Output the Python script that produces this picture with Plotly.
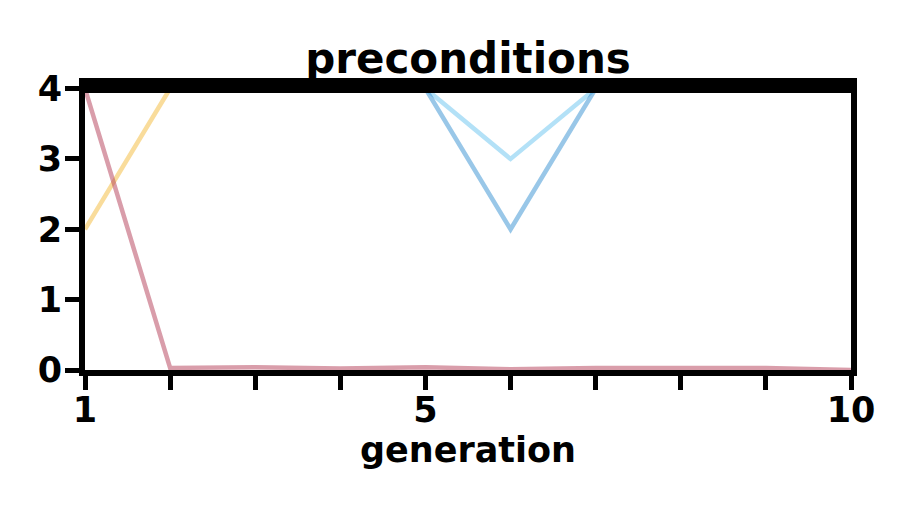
import plotly.graph_objects as go

generation = [1, 2, 3, 4, 5, 6, 7, 8, 9, 10]
series_orange = [2, 4, 4, 4, 4, 4, 4, 4, 4, 4]
series_pink = [4, 0.03, 0.04, 0.02, 0.04, 0.01, 0.03, 0.03, 0.03, 0.0]
series_blue = [4, 4, 4, 4, 4, 2, 4, 4, 4, 4]
series_lightblue = [4, 4, 4, 4, 4, 3, 4, 4, 4, 4]
x_tick_text = ["1", "", "", "", "5", "", "", "", "", "10"]
y_ticks = [0, 1, 2, 3, 4]

colors = {
    "orange": "rgba(243,185,55,0.5)",
    "pink": "rgba(180,60,85,0.5)",
    "blue": "rgba(52,143,210,0.5)",
    "lightblue": "rgba(103,196,240,0.5)",
}

fig = go.Figure()
for name, ys in [("orange", series_orange), ("pink", series_pink),
                 ("lightblue", series_lightblue), ("blue", series_blue)]:
    fig.add_trace(go.Scatter(x=generation, y=ys, mode="lines",
                             line=dict(color=colors[name], width=4.5),
                             showlegend=False, hoverinfo="skip"))

# page body has an 8px default margin; positions below are in figure coords
OFF = 8
W, H = 914 - OFF, 508 - OFF
left, right, top, bottom = 85 - OFF, 851 - OFF, 78 - OFF, 370 - OFF
font_b = dict(family="DejaVu Sans", size=35, color="black", weight="bold")

fig.update_layout(
    width=W, height=H,
    margin=dict(l=left, r=W - right, t=top, b=H - bottom, pad=0, autoexpand=False),
    paper_bgcolor="white", plot_bgcolor="white",
    title=dict(text="preconditions", x=(left + right) / 2 / W, xanchor="center",
               y=1 - (58 - OFF) / H, yanchor="middle",
               font=dict(family="DejaVu Sans", size=42, color="black", weight="bold")),
    xaxis=dict(range=[1, 10], tickvals=generation, ticktext=x_tick_text,
               showgrid=False, zeroline=False, showline=True, linecolor="black",
               linewidth=6, mirror=False, ticks="outside", ticklen=14, tickwidth=5,
               tickcolor="black", tickfont=font_b, ticklabelstandoff=-10,
               title=dict(text="generation", standoff=2,
                          font=dict(family="DejaVu Sans", size=35, color="black", weight="bold"))),
    yaxis=dict(range=[0, 4.15], tickvals=y_ticks,
               showgrid=False, zeroline=False, showline=True, linecolor="black",
               linewidth=6, mirror=True, ticks="outside", ticklen=14, tickwidth=5,
               tickcolor="black", tickfont=font_b, ticklabelstandoff=-4),
)

band_bottom = (bottom - (93 - OFF)) / (bottom - top)
fig.add_shape(type="rect", xref="paper", yref="paper",
              x0=-0.004, x1=1.005, y0=band_bottom, y1=1.0,
              fillcolor="black", line=dict(width=0), layer="above")

fig.write_html("out.html")
